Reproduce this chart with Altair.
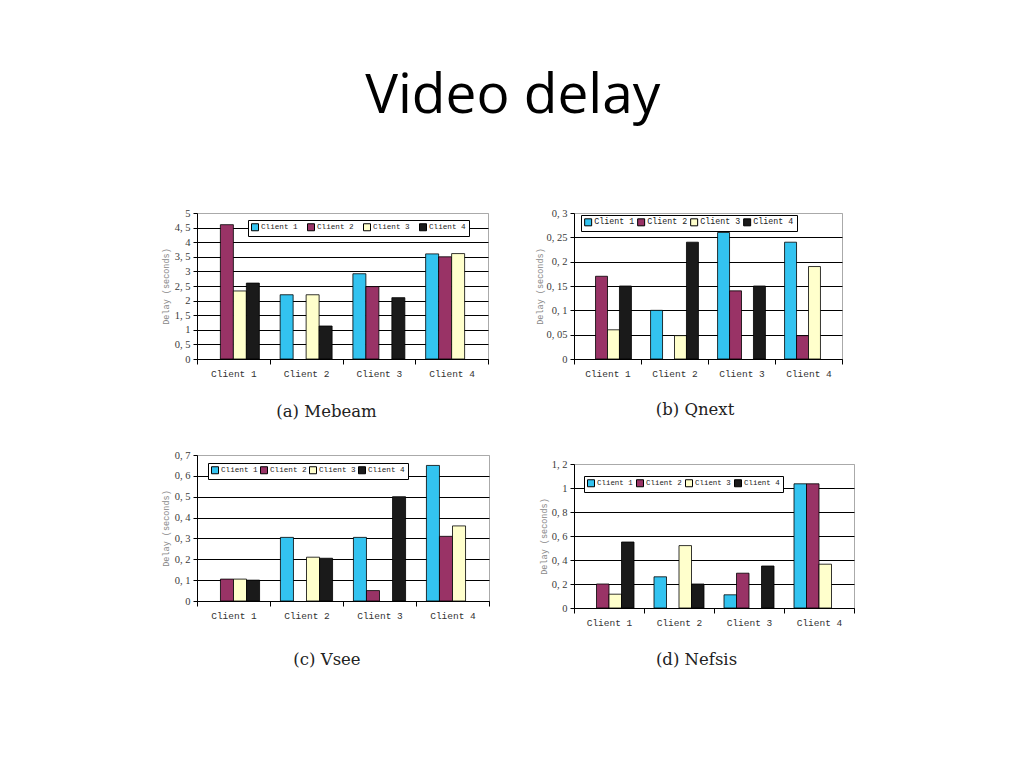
import altair as alt
import pandas as pd

CATS = ["Client 1", "Client 2", "Client 3", "Client 4"]
SERIES = ["Client 1", "Client 2", "Client 3", "Client 4"]
COLORS = ["#33C3F0", "#993366", "#FFFFCC", "#1A1A1A"]

# rows = x-axis group, columns = series (Client 1..4); 0 = no bar
mebeam = [[0, 4.6, 2.33, 2.6], [2.2, 0, 2.2, 1.13], [2.92, 2.48, 0, 2.1], [3.6, 3.5, 3.61, 0]]
qnext = [[0, 0.17, 0.06, 0.15], [0.10, 0, 0.048, 0.24], [0.26, 0.14, 0, 0.15], [0.24, 0.048, 0.19, 0]]
vsee = [[0, 0.105, 0.105, 0.10], [0.305, 0, 0.21, 0.205], [0.305, 0.05, 0, 0.50], [0.65, 0.31, 0.36, 0]]
nefsis = [[0, 0.20, 0.115, 0.55], [0.26, 0, 0.52, 0.20], [0.11, 0.29, 0, 0.35], [1.035, 1.035, 0.365, 0]]

mebeam_ticks = [0, 0.5, 1, 1.5, 2, 2.5, 3, 3.5, 4, 4.5, 5]
qnext_ticks = [0, 0.05, 0.1, 0.15, 0.2, 0.25, 0.3]
vsee_ticks = [0, 0.1, 0.2, 0.3, 0.4, 0.5, 0.6, 0.7]
nefsis_ticks = [0, 0.2, 0.4, 0.6, 0.8, 1, 1.2]


def build(values):
    rows = []
    for gi, g in enumerate(CATS):
        for si, s in enumerate(SERIES):
            v = values[gi][si]
            if v > 0:
                rows.append({"group": g, "series": s, "value": v})
    return pd.DataFrame(rows)


def panel(values, ticks, w, h, lx, ly, lfs, lcp, caption, capx, capy, ytx):
    ymax = ticks[-1]
    df = build(values)
    return alt.Chart(df).mark_bar(stroke="black", strokeWidth=0.8, opacity=1).encode(
        x=alt.X("group:N", sort=CATS,
                scale=alt.Scale(domain=CATS, paddingInner=0, paddingOuter=0),
                axis=alt.Axis(title=caption, labelAngle=0, tickBand="extent", tickSize=5,
                              tickColor="black", domainColor="black", labelFont="Liberation Mono",
                              labelFontSize=9.5, labelColor="#333333", labelPadding=4,
                              titleFont="DejaVu Serif", titleFontSize=16.5, titleFontWeight="normal",
                              titleColor="#222222", titleX=capx, titleY=capy, titleAlign="center",
                              titleBaseline="alphabetic", grid=False)),
        xOffset=alt.XOffset("series:N", sort=SERIES,
                            scale=alt.Scale(domain=SERIES, paddingInner=0, paddingOuter=0.8)),
        y=alt.Y("value:Q", scale=alt.Scale(domain=[0, ymax], nice=False, zero=True),
                axis=alt.Axis(values=ticks, format="~g", labelExpr="replace(datum.label, '.', ', ')",
                              title="Delay (seconds)", titleFont="Liberation Mono", titleFontSize=8.5,
                              titleFontWeight="normal", titleColor="#888888", titleAngle=-90,
                              titleX=ytx, titleY=h / 2, titleAlign="center", titleBaseline="middle",
                              labelFont="Liberation Serif", labelFontSize=10.5, labelColor="#3a3a3a",
                              labelPadding=3, tickSize=4, tickColor="black", domainColor="black",
                              grid=True, gridWidth=1,
                              gridColor={"condition": {"test": f"datum.value >= {ymax}", "value": "#aaaaaa"},
                                         "value": "black"})),
        color=alt.Color("series:N", scale=alt.Scale(domain=SERIES, range=COLORS),
                        legend=alt.Legend(orient="none", legendX=lx, legendY=ly, direction="horizontal",
                                          title=None, symbolType="square", symbolSize=49,
                                          symbolStrokeColor="black", symbolStrokeWidth=1, symbolOpacity=1,
                                          labelFont="Liberation Mono", labelFontSize=lfs,
                                          labelColor="#222222", labelOffset=2, columnPadding=lcp,
                                          padding=3, strokeColor="black", fillColor="white")),
    ).properties(width=w, height=h)


a = panel(mebeam, mebeam_ticks, 291, 146, 51, 7, 7.65, 7, "(a) Mebeam", 129, 57, -32)
b = panel(qnext, qnext_ticks, 268, 146, 7, 2, 8.3, 0, "(b) Qnext", 120.5, 55, -35)
c = panel(vsee, vsee_ticks, 292, 146, 11, 8, 7.65, 0, "(c) Vsee", 129.5, 63, -32)
d = panel(nefsis, nefsis_ticks, 280, 144, 10, 12, 7.45, 1, "(d) Nefsis", 122, 56, -31)

col1 = alt.vconcat(a, c, spacing=96, bounds="flush").resolve_scale(color="independent", xOffset="independent")
col2 = alt.vconcat(b, d, spacing=105, bounds="flush").resolve_scale(color="independent", xOffset="independent")

chart = alt.hconcat(col1, col2, spacing=44).resolve_scale(
    color="independent", xOffset="independent"
).properties(
    title=alt.Title("Video delay", font="Open Sans", fontSize=55, fontWeight="normal", color="black",
                    anchor="middle", frame="bounds", baseline="alphabetic", offset=40, dx=5),
    autosize=alt.AutoSizeParams(type="none"),
    padding={"left": 189, "top": 205, "right": 800, "bottom": 530},
).configure_view(stroke="#aaaaaa", strokeWidth=1)

chart.save("out.html", embed_options={"renderer": "svg", "actions": False})
